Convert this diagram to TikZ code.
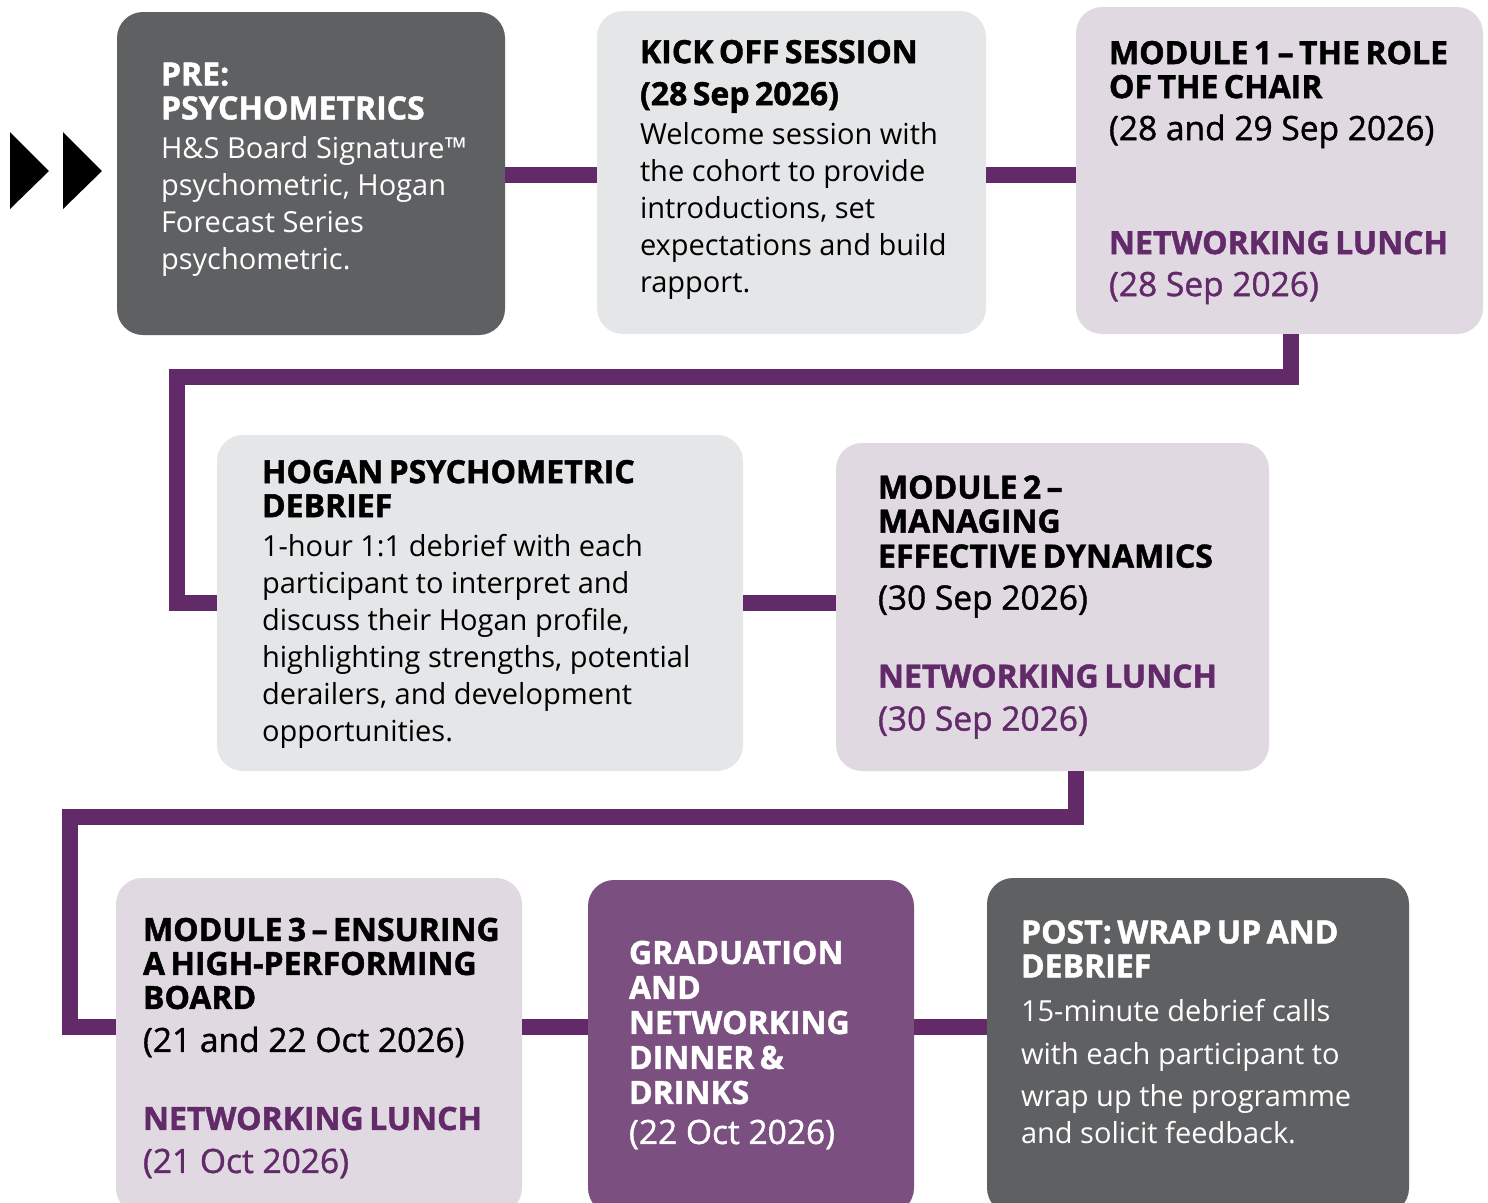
\documentclass[tikz,border=0pt]{standalone}
\usepackage{fontspec}
\usetikzlibrary{positioning}
\setmainfont{Open Sans}
\newfontfamily\datefamily[Ligatures=TeX, FakeBold=1.2]{Open Sans}
\newfontfamily\headfamily[Ligatures=TeX, BoldFeatures={FakeBold=1.4}]{Open Sans}

\definecolor{hsgrey}{HTML}{5F6062}
\definecolor{hslight}{HTML}{E5E6E8}
\definecolor{hsmauve}{HTML}{E0D9E2}
\definecolor{hsplum}{HTML}{7B4F80}
\definecolor{hspurple}{HTML}{632A6A}

\newcommand{\ttl}{\headfamily\fontsize{32}{34}\selectfont\bfseries\spaceskip=0.17em\relax}
\newcommand{\dte}{\datefamily\fontsize{33.5}{34}\selectfont}
\newcommand{\bdy}{\fontsize{29}{37}\selectfont}

\begin{document}
\begin{tikzpicture}[x=1pt,y=-1pt,
  stage/.style={rounded corners=26pt, inner sep=0pt},
  txt/.style={align=left, inner sep=0pt, font=\bdy},
  link/.style={line width=16pt, hspurple}]

\useasboundingbox (0,0) rectangle (1488,1202);
\clip (0,0) rectangle (1488,1202);

% start marks
\foreach \ax in {10,63}
  \fill (\ax,132) -- (\ax+39,171) -- (\ax,209) -- cycle;

% first row
\node[stage, fill=hsgrey, minimum width=388pt, minimum height=323pt] (pre) at (311,173.5) {};
\node[txt, text=white, right=44pt of pre.west, yshift=4pt] (pretext)
  {{\ttl PRE:}\\[-3pt]
   {\ttl PSYCHOMETRICS}\\[2pt]
   H\&S Board Signature™\\
   psychometric, Hogan\\
   Forecast Series\\
   psychometric.};

\node[stage, fill=hslight, minimum width=389pt, minimum height=323pt] (kick) at (791.5,172.5) {};
\node[txt, right=43pt of kick.west, yshift=3pt] (kicktext)
  {{\ttl KICK OFF SESSION}\\[5pt]
   {\ttl (28 Sep 2026)}\\[2pt]
   Welcome session with\\
   the cohort to provide\\
   introductions, set\\
   expectations and build\\
   rapport.};

\node[stage, fill=hsmauve, minimum width=407pt, minimum height=327pt] (mod1) at (1279.5,170.5) {};
\node[txt, right=33pt of mod1.west, yshift=-2pt] (mod1text)
  {{\ttl MODULE 1 -- THE ROLE}\\[-3pt]
   {\ttl OF THE CHAIR}\\[5pt]
   {\dte (28 and 29 Sep 2026)}\\[77pt]
   {\ttl\color{hspurple}NETWORKING LUNCH}\\[5pt]
   {\dte\color{hspurple}(28 Sep 2026)}};

% second row
\node[stage, fill=hslight, minimum width=526pt, minimum height=336pt] (hogan) at (480,603) {};
\node[txt, right=45pt of hogan.west, yshift=-1pt] (hogantext)
  {{\ttl HOGAN PSYCHOMETRIC}\\[-3pt]
   {\ttl DEBRIEF}\\[2pt]
   1-hour 1:1 debrief with each\\
   participant to interpret and\\
   discuss their Hogan profile,\\
   highlighting strengths, potential\\
   derailers, and development\\
   opportunities.};

\node[stage, fill=hsmauve, minimum width=433pt, minimum height=328pt] (mod2) at (1052.5,607) {};
\node[txt, right=42pt of mod2.west] (mod2text)
  {{\ttl MODULE 2 --}\\[-3pt]
   {\ttl MANAGING}\\[-2pt]
   {\ttl EFFECTIVE DYNAMICS}\\[5pt]
   {\dte (30 Sep 2026)}\\[41pt]
   {\ttl\color{hspurple}NETWORKING LUNCH}\\[6pt]
   {\dte\color{hspurple}(30 Sep 2026)}};

% third row
\node[stage, fill=hsmauve, minimum width=406pt, minimum height=336pt] (mod3) at (319,1046) {};
\node[txt, right=27pt of mod3.west, yshift=-2pt] (mod3text)
  {{\ttl MODULE 3 -- ENSURING}\\[-3pt]
   {\ttl A HIGH-PERFORMING}\\[-3pt]
   {\ttl BOARD}\\[6pt]
   {\dte (21 and 22 Oct 2026)}\\[41pt]
   {\ttl\color{hspurple}NETWORKING LUNCH}\\[6pt]
   {\dte\color{hspurple}(21 Oct 2026)}};

\node[stage, fill=hsplum, minimum width=326pt, minimum height=334pt] (grad) at (751,1047) {};
\node[txt, text=white, right=41pt of grad.west, yshift=2pt] (gradtext)
  {{\ttl GRADUATION}\\[-2pt]
   {\ttl AND}\\[-2pt]
   {\ttl NETWORKING}\\[-2pt]
   {\ttl DINNER \&}\\[-2pt]
   {\ttl DRINKS}\\[3pt]
   {\dte (22 Oct 2026)}};

\node[stage, fill=hsgrey, minimum width=422pt, minimum height=336pt] (post) at (1198,1046) {};
\node[txt, text=white, right=34pt of post.west, yshift=14pt] (posttext)
  {{\ttl POST: WRAP UP AND}\\[-3pt]
   {\ttl DEBRIEF}\\[7pt]
   15-minute debrief calls\\[6pt]
   with each participant to\\[5pt]
   wrap up the programme\\
   and solicit feedback.};

% links
\coordinate (rowA) at (0,175);
\coordinate (bendA) at (1290.5,376.5);
\coordinate (bendB) at (176.5,376.5);
\coordinate (bendC) at (1076,816.5);
\coordinate (bendD) at (70,816.5);
\coordinate (rowC) at (0,1027);

\draw[link] (pre.east |- rowA) -- (kick.west |- rowA);
\draw[link] (kick.east |- rowA) -- (mod1.west |- rowA);
\draw[link] (mod1.south -| bendA) -- (bendA) -- (bendB) |- (hogan.west);
\draw[link] (hogan.east) -- (mod2.west |- hogan.east);
\draw[link] (mod2.south -| bendC) -- (bendC) -- (bendD) |- (mod3.west |- rowC);
\draw[link] (mod3.east |- rowC) -- (grad.west |- rowC);
\draw[link] (grad.east |- rowC) -- (post.west |- rowC);

\end{tikzpicture}
\end{document}
